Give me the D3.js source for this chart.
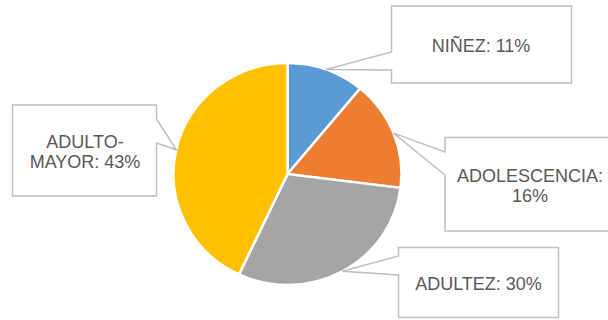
<!DOCTYPE html>
<html>
<head>
<meta charset="utf-8">
<script src="https://cdn.jsdelivr.net/npm/d3@7"></script>
<style>
  body { margin: 0; background: #fff; }
  text { font-family: "Liberation Sans", Arial, sans-serif; }
</style>
</head>
<body>
<div id="chart"></div>
<script>
const WIDTH = 608;
const HEIGHT = 320;

// data
const categories = ["NIÑEZ", "ADOLESCENCIA", "ADULTEZ", "ADULTO-MAYOR"];
const values = [11, 16, 30, 43];
const labelLines = [
    ["NIÑEZ: 11%"],
    ["ADOLESCENCIA:", "16%"],
    ["ADULTEZ: 30%"],
    ["ADULTO-", "MAYOR: 43%"]
];
const colors = ["#5B9BD5", "#ED7D31", "#A5A5A5", "#FFC000"];

// callout boxes (layout only)
const boxes = [
    { x: 391.5, y: 6, w: 180, h: 77, side: "left", b0: 52, b1: 70, tx: 481, ty: 52 },
    { x: 445, y: 137.5, w: 175, h: 93.5, side: "left", b0: 152, b1: 175, tx: 530, ty: 181.5 },
    { x: 398.5, y: 247.5, w: 160, h: 70, side: "left", b0: 256, b1: 275, tx: 478.5, ty: 290 },
    { x: 12.5, y: 105, w: 144, h: 91, side: "right", b0: 119, b1: 143, tx: 85, ty: 147.5 }
];

const cx = 287.5, cy = 174;
const R = 114, sy = 111 / 114;

const svg = d3.select("#chart")
    .append("svg")
        .attr("width", WIDTH)
        .attr("height", HEIGHT)

const pie = d3.pie().sort(null).value(d => d)
const arcs = pie(values)

const arc = d3.arc().innerRadius(0).outerRadius(R)

const g = svg.append("g")
    .attr("transform", `translate(${cx},${cy}) scale(1,${sy})`)

g.selectAll("path")
    .data(arcs)
    .enter()
    .append("path")
        .attr("d", arc)
        .attr("fill", (d, i) => colors[i])
        .attr("stroke", "#fff")
        .attr("stroke-width", 2.5)

// tip of each callout = edge of pie at slice middle
function tipOf(d) {
    const a = (d.startAngle + d.endAngle) / 2
    return [cx + R * Math.sin(a), cy - R * Math.cos(a) * sy]
}

function calloutPath(b, tip) {
    const p = d3.path()
    p.moveTo(b.x, b.y)
    p.lineTo(b.x + b.w, b.y)
    if (b.side === "right") {
        p.lineTo(b.x + b.w, b.b0)
        p.lineTo(tip[0], tip[1])
        p.lineTo(b.x + b.w, b.b1)
    }
    p.lineTo(b.x + b.w, b.y + b.h)
    p.lineTo(b.x, b.y + b.h)
    if (b.side === "left") {
        p.lineTo(b.x, b.b1)
        p.lineTo(tip[0], tip[1])
        p.lineTo(b.x, b.b0)
    }
    p.closePath()
    return p.toString()
}

const callouts = svg.selectAll("g.callout")
    .data(arcs)
    .enter()
    .append("g")
        .attr("class", "callout")

callouts.append("path")
    .attr("d", (d, i) => calloutPath(boxes[i], tipOf(d)))
    .attr("fill", "#fff")
    .attr("stroke", "#BFBFBF")
    .attr("stroke-width", 1.5)
    .attr("stroke-linejoin", "miter")

callouts.each(function(d, i) {
    const b = boxes[i]
    const t = d3.select(this).append("text")
        .attr("text-anchor", "middle")
        .attr("font-size", 18)
        .attr("fill", "#595959")
    labelLines[i].forEach((line, j) => {
        t.append("tspan")
            .attr("x", b.tx)
            .attr("y", b.ty + j * 20.5)
            .text(line)
    })
})
</script>
</body>
</html>
